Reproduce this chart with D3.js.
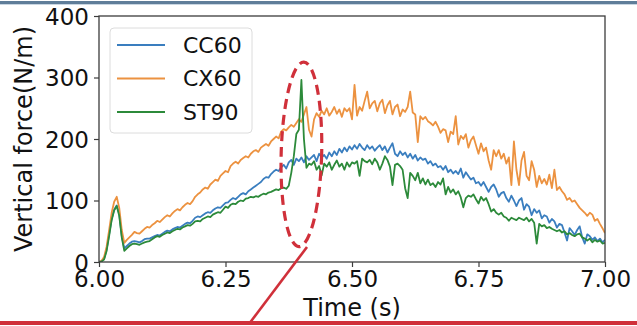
<!DOCTYPE html>
<html>
<head>
<meta charset="utf-8">
<script src="https://cdn.jsdelivr.net/npm/d3@7"></script>
<style>
  html, body { margin: 0; padding: 0; background: #fff; }
  svg { display: block; font-family: "DejaVu Sans", sans-serif; }
</style>
</head>
<body>
<div id="chart"></div>
<script>
// time axis: 6.000 s to 7.000 s, one sample every 5 ms
const tStart = 6.0;
const tStep = 0.005;

const xTicks = [6.0, 6.25, 6.5, 6.75, 7.0];
const yTicks = [0, 100, 200, 300, 400];

const seriesNames = ['CC60', 'CX60', 'ST90'];
const seriesColors = ['#3a7ebf', '#ec9240', '#2c8a3a'];

const cc60 = [
  0, 1, 5, 20, 45, 70, 85, 92, 78, 42, 22, 26, 30, 33, 34, 33, 32, 34, 37, 38,
  38, 40, 42, 44, 43, 46, 49, 51, 50, 53, 55, 57, 56, 59, 62, 64, 63, 67, 72, 74,
  73, 76, 79, 81, 80, 84, 87, 89, 88, 92, 96, 97, 101, 104, 102, 106, 110, 112, 110, 115,
  118, 121, 124, 127, 130, 135, 138, 137, 143, 147, 150, 148, 154, 158, 152, 162, 166, 158, 168, 164,
  170, 162, 172, 166, 170, 174, 164, 176, 170, 174, 168, 178, 172, 180, 174, 184, 178, 186, 180, 188,
  183, 190, 184, 192, 186, 182, 190, 184, 188, 181, 186, 190, 182, 188, 178, 186, 193, 176, 172, 180,
  174, 178, 170, 176, 168, 174, 165, 170, 166, 168, 160, 164, 157, 160, 154, 156, 150, 156, 146, 150,
  144, 148, 143, 152, 137, 146, 140, 134, 137, 128, 130, 124, 130, 122, 114, 122, 126, 118, 106, 112,
  114, 104, 98, 108, 100, 91, 100, 104, 85, 94, 90, 76, 86, 80, 84, 71, 76, 74, 64, 70,
  66, 56, 62, 60, 48, 35, 55, 50, 44, 52, 58, 40, 30, 45, 42, 36, 40, 34, 38, 32,
  36
];

const cx60 = [
  0, 2, 8, 25, 52, 80, 98, 106, 88, 52, 31, 36, 40, 44, 49, 47, 46, 50, 54, 57,
  56, 60, 63, 67, 65, 69, 73, 76, 74, 79, 83, 86, 84, 89, 93, 96, 94, 99, 106, 110,
  113, 118, 121, 119, 126, 130, 134, 132, 140, 144, 148, 146, 156, 160, 163, 160, 166, 169, 172, 170,
  176, 180, 182, 179, 186, 189, 192, 189, 196, 200, 204, 201, 212, 216, 214, 219, 223, 220, 226, 232,
  228, 240, 252, 215, 204, 232, 242, 236, 246, 240, 250, 238, 244, 252, 241, 248, 236, 250, 245, 250,
  232, 288, 238, 252, 246, 262, 277, 250, 258, 262, 245, 258, 264, 242, 255, 262, 240, 252, 256, 237,
  248, 244, 252, 277, 243, 240, 195, 237, 232, 236, 229, 226, 222, 228, 220, 210, 216, 214, 195, 212,
  208, 237, 191, 205, 200, 208, 186, 198, 204, 190, 176, 193, 180, 186, 165, 150, 182, 172, 182, 168,
  176, 160, 170, 125, 196, 150, 125, 165, 179, 140, 133, 164, 150, 122, 140, 128, 135, 126, 142, 120,
  150, 117, 122, 115, 110, 101, 104, 98, 100, 94, 88, 84, 80, 75, 80, 77, 67, 70, 62, 55,
  47
];

const st90 = [
  0, 1, 4, 18, 42, 68, 84, 91, 75, 40, 18, 22, 26, 29, 30, 29, 28, 30, 32, 33,
  34, 37, 40, 42, 41, 44, 46, 48, 47, 50, 52, 54, 53, 56, 58, 60, 59, 62, 66, 67,
  66, 70, 72, 74, 73, 77, 79, 81, 80, 85, 90, 88, 93, 95, 94, 98, 100, 99, 103, 104,
  106, 105, 107, 106, 109, 111, 110, 113, 114, 116, 118, 117, 120, 121, 119, 124, 145, 172, 208, 215,
  296, 200, 153, 160, 158, 164, 150, 156, 141, 160, 155, 162, 150, 158, 165, 155, 160, 150, 162, 155,
  162, 160, 164, 140, 168, 164, 162, 166, 159, 168, 162, 150, 160, 172, 166, 155, 125, 158, 160, 156,
  150, 120, 104, 145, 140, 133, 145, 128, 136, 126, 134, 125, 128, 122, 130, 126, 136, 110, 122, 113,
  118, 110, 115, 105, 89, 104, 108, 106, 110, 102, 95, 106, 100, 104, 94, 82, 86, 80, 77, 80,
  74, 72, 67, 72, 70, 68, 72, 70, 68, 72, 66, 70, 64, 30, 62, 58, 60, 55, 57, 54,
  52, 50, 52, 48, 50, 45, 47, 44, 42, 45, 46, 40, 38, 35, 38, 32, 36, 33, 35, 30,
  31
];

const seriesValues = [cc60, cx60, st90];

const width = 637;
const height = 326;
const margin = { top: 16, right: 32, bottom: 64, left: 99 };

const svg = d3.select('#chart')
  .append('svg')
  .attr('width', width)
  .attr('height', height);

const x = d3.scaleLinear()
  .domain([6.0, 7.0])
  .range([margin.left, width - margin.right]);

const y = d3.scaleLinear()
  .domain([0, 400])
  .range([height - margin.bottom, margin.top]);

// slide frame lines
svg.append('rect')
  .attr('x', 0).attr('y', 1)
  .attr('width', width).attr('height', 3)
  .attr('fill', '#5f7d99');
svg.append('rect')
  .attr('x', 0).attr('y', 4)
  .attr('width', width).attr('height', 1)
  .attr('fill', '#c9d6e2');

const plot = svg.append('g');

svg.append('clipPath').attr('id', 'plot-clip')
  .append('rect')
  .attr('x', margin.left).attr('y', margin.top)
  .attr('width', width - margin.left - margin.right)
  .attr('height', height - margin.top - margin.bottom);

const line = d3.line()
  .x((d, i) => x(tStart + i * tStep))
  .y(d => y(d));

// draw order as in matplotlib: CC60, CX60, ST90
seriesValues.forEach((vals, k) => {
  plot.append('path')
    .datum(vals)
    .attr('clip-path', 'url(#plot-clip)')
    .attr('fill', 'none')
    .attr('stroke', seriesColors[k])
    .attr('stroke-width', 1.8)
    .attr('stroke-linejoin', 'round')
    .attr('d', line);
});

// axes frame
svg.append('rect')
  .attr('x', margin.left)
  .attr('y', margin.top)
  .attr('width', width - margin.left - margin.right)
  .attr('height', height - margin.top - margin.bottom)
  .attr('fill', 'none')
  .attr('stroke', '#3c3c3c')
  .attr('stroke-width', 1.3);

const xAxis = svg.append('g')
  .attr('transform', `translate(0,${height - margin.bottom})`)
  .call(d3.axisBottom(x).tickValues(xTicks).tickFormat(d3.format('.2f')).tickSize(5).tickPadding(4));

const yAxis = svg.append('g')
  .attr('transform', `translate(${margin.left},0)`)
  .call(d3.axisLeft(y).tickValues(yTicks).tickFormat(d3.format('d')).tickSize(5).tickPadding(5));

[xAxis, yAxis].forEach(ax => {
  ax.select('.domain').remove();
  ax.selectAll('.tick line').attr('stroke', '#3c3c3c').attr('stroke-width', 1.2);
  ax.selectAll('.tick text')
    .attr('fill', '#111')
    .style('font-size', '23px')
    .style('font-family', '"DejaVu Sans", sans-serif');
});
yAxis.selectAll('.tick text').attr('dy', '0.36em');

svg.append('text')
  .attr('x', (margin.left + width - margin.right) / 2)
  .attr('y', 316)
  .attr('text-anchor', 'middle')
  .attr('fill', '#111')
  .style('font-size', '24px')
  .text('Time (s)');

svg.append('text')
  .attr('transform', `translate(32,${(margin.top + height - margin.bottom) / 2}) rotate(-90)`)
  .attr('text-anchor', 'middle')
  .attr('fill', '#111')
  .style('font-size', '24px')
  .text('Vertical force(N/m)');

// legend
const legend = svg.append('g').attr('transform', 'translate(110,28)');
legend.append('rect')
  .attr('width', 142).attr('height', 105)
  .attr('rx', 4)
  .attr('fill', '#fff')
  .attr('fill-opacity', 0.85)
  .attr('stroke', '#dcdcdc')
  .attr('stroke-width', 1);

seriesNames.forEach((name, k) => {
  const row = legend.append('g').attr('transform', `translate(0,${17 + k * 33.5})`);
  row.append('line')
    .attr('x1', 7).attr('x2', 55)
    .attr('stroke', seriesColors[k])
    .attr('stroke-width', 1.8);
  row.append('text')
    .attr('x', 73)
    .attr('dy', '0.36em')
    .attr('fill', '#111')
    .style('font-size', '22px')
    .text(name);
});

// red annotation: dashed ellipse round the ST90 spike and a pointer to the slide bar
const red = '#d0303a';
const cx = x(6.40), cy = y(175);
const rx = x(6.44) - x(6.40), ry = y(25) - y(175);

svg.append('ellipse')
  .attr('cx', cx).attr('cy', cy)
  .attr('rx', rx).attr('ry', ry)
  .attr('transform', `rotate(1.5,${cx},${cy})`)
  .attr('fill', 'none')
  .attr('stroke', red)
  .attr('stroke-width', 3.2)
  .attr('stroke-dasharray', '10,6');

svg.append('line')
  .attr('x1', 307).attr('y1', 247)
  .attr('x2', 249).attr('y2', 324)
  .attr('stroke', red)
  .attr('stroke-width', 2.6);

svg.append('rect')
  .attr('x', 0).attr('y', 321)
  .attr('width', width).attr('height', 4)
  .attr('fill', red);
</script>
</body>
</html>
